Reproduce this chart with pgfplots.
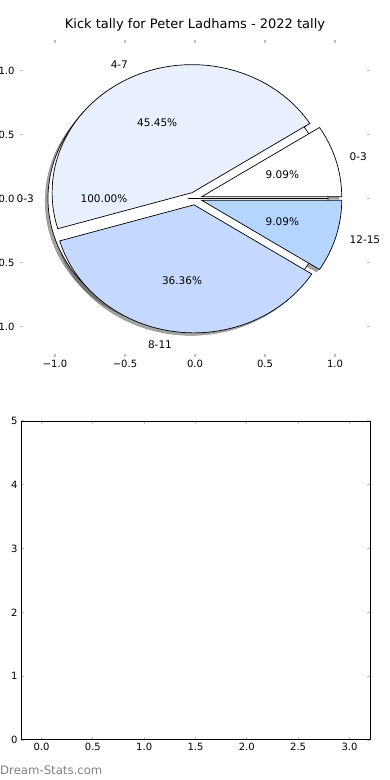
\documentclass[border=0pt]{standalone}
\usepackage{pgfplots}
\pgfplotsset{compat=1.18}
\usepackage{fontspec}
\setmainfont{DejaVu Sans}
\definecolor{cA}{RGB}{255,255,255}
\definecolor{cB}{RGB}{232,240,254}
\definecolor{cC}{RGB}{197,216,253}
\definecolor{cD}{RGB}{180,213,254}
\definecolor{tickgray}{RGB}{190,190,190}
% data: kick tally per range
\def\vA{1}% 0-3
\def\vB{5}% 4-7
\def\vC{4}% 8-11
\def\vD{1}% 12-15
\pgfmathsetmacro\tot{\vA+\vB+\vC+\vD}
\pgfmathsetmacro\sA{0}
\pgfmathsetmacro\sB{360*\vA/\tot}
\pgfmathsetmacro\sC{\sB+360*\vB/\tot}
\pgfmathsetmacro\sD{\sC+360*\vC/\tot}
\def\sE{360}
\def\ex{0.05}
% #1 start, #2 end, #3 dx, #4 dy, #5 style
\newcommand\pieWedge[5]{%
  \path[#5] (axis cs:{\ex*cos((#1+#2)/2)+#3},{\ex*sin((#1+#2)/2)+#4})
    -- (axis cs:{\ex*cos((#1+#2)/2)+#3+cos(#1)},{\ex*sin((#1+#2)/2)+#4+sin(#1)})
    arc[start angle=#1,end angle=#2,x radius=140bp,y radius=128bp] -- cycle;}
% #1 start, #2 end, #3 distance, #4 anchor, #5 text
\newcommand\pieText[5]{%
  \node[anchor=#4,inner sep=0pt,font=\fontsize{10.5bp}{12bp}\selectfont]
    at (axis cs:{(\ex+#3)*cos((#1+#2)/2)},{(\ex+#3)*sin((#1+#2)/2)}) {#5};}
\begin{document}
\begin{tikzpicture}
\path[use as bounding box] (0,0) rectangle (390bp,780bp);
\begin{axis}[
  at={(20bp,423bp)}, anchor=south west,
  width=350bp, height=317bp, scale only axis,
  xmin=-1.25, xmax=1.25, ymin=-1.238, ymax=1.238,
  clip=false,
  axis line style={draw=none},
  tick style={color=tickgray, line width=1.2bp},
  major tick length=3bp,
  xtick={-1,-0.5,0,0.5,1},
  xticklabels={−1.0,−0.5,0.0,0.5,1.0},
  ytick={-1,-0.5,0,0.5,1},
  yticklabels={−1.0,−0.5,0.0,0.5,1.0},
  ticklabel style={font=\fontsize{10bp}{12bp}\selectfont},
  yticklabel style={xshift=-2bp},
  title={Kick tally for Peter Ladhams - 2022 tally},
  title style={font=\fontsize{13bp}{15bp}\selectfont, anchor=base, at={(0.5,1)}, yshift=6bp, inner sep=0pt},
]
% shadows
\pieWedge{0}{360}{-0.02}{-0.02}{fill=black!70,fill opacity=0.5,draw=black!70,draw opacity=0.5}
\pieWedge{\sA}{\sB}{-0.02}{-0.02}{fill=black!70,fill opacity=0.5,draw=black!70,draw opacity=0.5}
\pieWedge{\sB}{\sC}{-0.02}{-0.02}{fill=black!70,fill opacity=0.5,draw=black!70,draw opacity=0.5}
\pieWedge{\sC}{\sD}{-0.02}{-0.02}{fill=black!70,fill opacity=0.5,draw=black!70,draw opacity=0.5}
\pieWedge{\sD}{\sE}{-0.02}{-0.02}{fill=black!70,fill opacity=0.5,draw=black!70,draw opacity=0.5}
% single-slice pie (100%)
\pieWedge{0}{360}{0}{0}{fill=cA,draw=black,line width=0.7bp}
% main pie
\pieWedge{\sA}{\sB}{0}{0}{fill=cA,draw=black,line width=0.7bp}
\pieWedge{\sB}{\sC}{0}{0}{fill=cB,draw=black,line width=0.7bp}
\pieWedge{\sC}{\sD}{0}{0}{fill=cC,draw=black,line width=0.7bp}
\pieWedge{\sD}{\sE}{0}{0}{fill=cD,draw=black,line width=0.7bp}
% labels
\pieText{0}{360}{1.1}{east}{0-3}
\pieText{0}{360}{0.6}{center}{100.00\%}
\pieText{\sA}{\sB}{1.1}{west}{0-3}
\pieText{\sB}{\sC}{1.1}{east}{4-7}
\pieText{\sC}{\sD}{1.1}{east}{8-11}
\pieText{\sD}{\sE}{1.1}{west}{12-15}
\pieText{\sA}{\sB}{0.6}{center}{9.09\%}
\pieText{\sB}{\sC}{0.6}{center}{45.45\%}
\pieText{\sC}{\sD}{0.6}{center}{36.36\%}
\pieText{\sD}{\sE}{0.6}{center}{9.09\%}
\end{axis}
\begin{axis}[
  at={(21bp,40bp)}, anchor=south west,
  width=349bp, height=319bp, scale only axis,
  xmin=-0.2, xmax=3.2, ymin=0, ymax=5,
  axis line style={black, line width=1bp},
  tick style={color=tickgray, line width=1.2bp},
  major tick length=3bp,
  xtick={0,0.5,1,1.5,2,2.5,3},
  xticklabels={0.0,0.5,1.0,1.5,2.0,2.5,3.0},
  ytick={0,1,2,3,4,5},
  yticklabels={0,1,2,3,4,5},
  ticklabel style={font=\fontsize{10bp}{12bp}\selectfont},
]
\end{axis}
\node[anchor=west, inner sep=0pt, text=black!50, font=\fontsize{11.7bp}{13bp}\selectfont] at (0bp,10bp) {Dream-Stats.com};
\end{tikzpicture}
\end{document}
